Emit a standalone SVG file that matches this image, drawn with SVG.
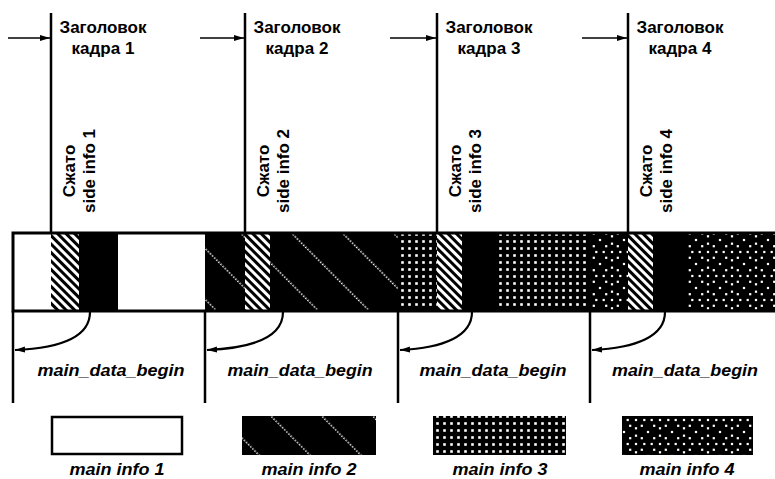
<svg xmlns="http://www.w3.org/2000/svg" width="775" height="479" viewBox="0 0 775 479">
<style>
.t{font-family:"Liberation Sans",Arial,sans-serif;font-weight:bold;font-size:17px;fill:#000}
.it{font-family:"Liberation Sans",Arial,sans-serif;font-weight:bold;font-style:italic;font-size:16px;fill:#000}
.ln{stroke:#000;stroke-width:2.5;fill:none}
.thin{stroke:#000;stroke-width:1.5;fill:none}
.cv{stroke:#000;stroke-width:2.2;fill:none}
</style>
<defs>
<pattern id="hatch" width="6" height="6" patternUnits="userSpaceOnUse" patternTransform="rotate(-45)">
<rect width="6" height="6" fill="#fff"/><rect width="3" height="6" fill="#000"/>
</pattern>
<pattern id="p2" width="36" height="3" patternUnits="userSpaceOnUse" patternTransform="translate(5,0) rotate(-45)">
<rect width="36" height="3" fill="#000"/><rect x="1" y="0" width="1.5" height="1.5" fill="#fff"/>
</pattern>
<pattern id="p3" width="7" height="7" patternUnits="userSpaceOnUse">
<rect width="7" height="7" fill="#000"/><rect x="2.2" y="2.2" width="2.6" height="2.6" fill="#fff"/>
</pattern>
<pattern id="p4" width="24" height="24" patternUnits="userSpaceOnUse">
<rect width="24" height="24" fill="#000"/>
<g fill="#fff">
<rect x="19.2" y="10.9" width="2.2" height="2.2"/><rect x="16.7" y="16.7" width="2.2" height="2.2"/>
<rect x="10.9" y="19.2" width="2.2" height="2.2"/><rect x="5.1" y="16.7" width="2.2" height="2.2"/>
<rect x="2.6" y="10.9" width="2.2" height="2.2"/><rect x="5.1" y="5.1" width="2.2" height="2.2"/>
<rect x="10.9" y="2.6" width="2.2" height="2.2"/><rect x="16.7" y="5.1" width="2.2" height="2.2"/>
<rect x="10.9" y="10.9" width="2.2" height="2.2"/><rect x="-1.1" y="-1.1" width="2.2" height="2.2"/>
<rect x="22.9" y="-1.1" width="2.2" height="2.2"/><rect x="-1.1" y="22.9" width="2.2" height="2.2"/>
<rect x="22.9" y="22.9" width="2.2" height="2.2"/>
</g>
</pattern>
<marker id="ah" markerUnits="userSpaceOnUse" markerWidth="12" markerHeight="8" refX="10" refY="4" orient="auto">
<path d="M0,1 L10,4 L0,7 Z" fill="#000"/>
</marker>
</defs>

<g id="band">
<rect x="13" y="233" width="38" height="78" fill="#fff"/>
<rect x="51" y="233" width="28" height="78" fill="url(#hatch)"/>
<rect x="79" y="233" width="39" height="78" fill="#000"/>
<rect x="118" y="233" width="87" height="78" fill="#fff"/>
<rect x="205" y="233" width="40" height="78" fill="url(#p2)"/>
<rect x="245" y="233" width="25" height="78" fill="url(#hatch)"/>
<rect x="270" y="233" width="128" height="78" fill="url(#p2)"/>
<rect x="398" y="233" width="39" height="78" fill="url(#p3)"/>
<rect x="437" y="233" width="25" height="78" fill="url(#hatch)"/>
<rect x="462" y="233" width="35" height="78" fill="#000"/>
<rect x="497" y="233" width="93" height="78" fill="url(#p3)"/>
<rect x="590" y="233" width="38" height="78" fill="url(#p4)"/>
<rect x="628" y="233" width="25" height="78" fill="url(#hatch)"/>
<rect x="653" y="233" width="35" height="78" fill="#000"/>
<rect x="688" y="233" width="90" height="78" fill="url(#p4)"/>
<path d="M780,233 H13 V311 H780" stroke="#000" stroke-width="3" fill="none"/>
</g>

<g id="frame1">
<text class="t" x="103" y="33" text-anchor="middle">Заголовок</text>
<text class="t" x="103" y="54" text-anchor="middle">кадра 1</text>
<text class="t" transform="translate(75,171) rotate(-90)" text-anchor="middle">Сжато</text>
<text class="t" transform="translate(95,171) rotate(-90)" text-anchor="middle">side info 1</text>
<text class="it" x="111" y="376" text-anchor="middle" textLength="147" lengthAdjust="spacingAndGlyphs">main_data_begin</text>
</g>
<g id="frame2">
<text class="t" x="297" y="33" text-anchor="middle">Заголовок</text>
<text class="t" x="297" y="54" text-anchor="middle">кадра 2</text>
<text class="t" transform="translate(269,171) rotate(-90)" text-anchor="middle">Сжато</text>
<text class="t" transform="translate(289,171) rotate(-90)" text-anchor="middle">side info 2</text>
<text class="it" x="300" y="376" text-anchor="middle" textLength="145" lengthAdjust="spacingAndGlyphs">main_data_begin</text>
</g>
<g id="frame3">
<text class="t" x="489" y="33" text-anchor="middle">Заголовок</text>
<text class="t" x="489" y="54" text-anchor="middle">кадра 3</text>
<text class="t" transform="translate(461,171) rotate(-90)" text-anchor="middle">Сжато</text>
<text class="t" transform="translate(481,171) rotate(-90)" text-anchor="middle">side info 3</text>
<text class="it" x="493" y="376" text-anchor="middle" textLength="147" lengthAdjust="spacingAndGlyphs">main_data_begin</text>
</g>
<g id="frame4">
<text class="t" x="680" y="33" text-anchor="middle">Заголовок</text>
<text class="t" x="680" y="54" text-anchor="middle">кадра 4</text>
<text class="t" transform="translate(652,171) rotate(-90)" text-anchor="middle">Сжато</text>
<text class="t" transform="translate(672,171) rotate(-90)" text-anchor="middle">side info 4</text>
<text class="it" x="685" y="376" text-anchor="middle" textLength="146" lengthAdjust="spacingAndGlyphs">main_data_begin</text>
</g>

<g id="legend1">
<rect x="52" y="417" width="130" height="37" fill="#fff" stroke="#000" stroke-width="2.5"/>
<text class="it" x="117" y="475" text-anchor="middle" textLength="95" lengthAdjust="spacingAndGlyphs">main info 1</text>
</g>
<g id="legend2">
<rect x="242" y="416" width="134" height="39" fill="url(#p2)"/>
<text class="it" x="309" y="475" text-anchor="middle" textLength="95" lengthAdjust="spacingAndGlyphs">main info 2</text>
</g>
<g id="legend3">
<rect x="433" y="416" width="133" height="39" fill="url(#p3)"/>
<text class="it" x="500" y="475" text-anchor="middle" textLength="95" lengthAdjust="spacingAndGlyphs">main info 3</text>
</g>
<g id="legend4">
<rect x="622" y="416" width="131" height="39" fill="url(#p4)"/>
<text class="it" x="687" y="475" text-anchor="middle" textLength="95" lengthAdjust="spacingAndGlyphs">main info 4</text>
</g>

<g id="connectors">
<line class="ln" x1="51" y1="13" x2="51" y2="233"/>
<line class="ln" x1="245" y1="13" x2="245" y2="233"/>
<line class="ln" x1="437" y1="13" x2="437" y2="233"/>
<line class="ln" x1="628" y1="13" x2="628" y2="233"/>
<line class="thin" x1="8" y1="38" x2="50" y2="38" marker-end="url(#ah)"/>
<line class="thin" x1="200" y1="38" x2="244" y2="38" marker-end="url(#ah)"/>
<line class="thin" x1="390" y1="38" x2="436" y2="38" marker-end="url(#ah)"/>
<line class="thin" x1="582" y1="38" x2="627" y2="38" marker-end="url(#ah)"/>
<line class="ln" x1="13" y1="311" x2="13" y2="403"/>
<line class="ln" x1="205" y1="311" x2="205" y2="403"/>
<line class="ln" x1="398" y1="311" x2="398" y2="403"/>
<line class="ln" x1="590" y1="311" x2="590" y2="403"/>
<path class="cv" d="M90,312 C90,336 62,348 15,350" marker-end="url(#ah)"/>
<path class="cv" d="M283,312 C283,336 255,348 207,350" marker-end="url(#ah)"/>
<path class="cv" d="M472,312 C472,336 444,348 400,350" marker-end="url(#ah)"/>
<path class="cv" d="M665,312 C665,336 637,348 592,350" marker-end="url(#ah)"/>
</g>
</svg>
